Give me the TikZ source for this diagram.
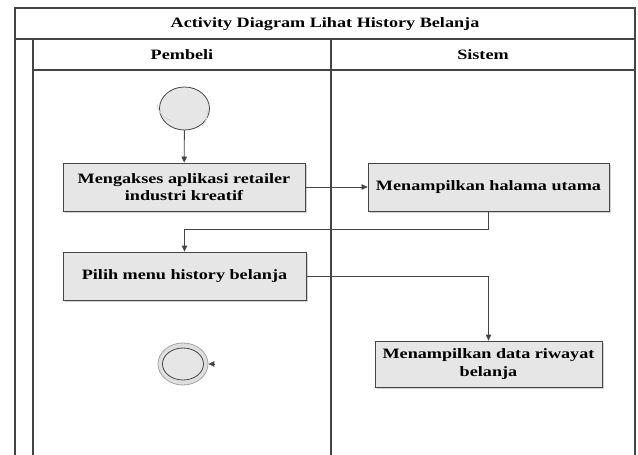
\documentclass[tikz,border=0pt]{standalone}
\usepackage{fontspec}
\setmainfont{Liberation Serif}[FakeStretch=1.27]
\usetikzlibrary{arrows.meta,shapes.geometric,shadows}
\definecolor{linegray}{HTML}{454545}
\definecolor{boxfill}{HTML}{E6E6E6}
\definecolor{shadowgray}{HTML}{D2D2D2}
\tikzset{
  frame/.style={draw=linegray, line width=1.1pt},
  lbl/.style={font=\fontsize{14.3}{17.5}\selectfont\bfseries, text=black, inner sep=0pt},
  actbox/.style={draw=linegray, line width=0.8pt, fill=boxfill, lbl, align=center,
    drop shadow={shadow xshift=2pt, shadow yshift=-2pt, fill=shadowgray, opacity=1}},
  flow/.style={draw=linegray, line width=0.9pt, -{Triangle[length=6pt,width=5.5pt]}},
  startnode/.style={ellipse, draw=linegray, line width=0.8pt, fill=boxfill, inner sep=0pt},
}
\begin{document}
\begin{tikzpicture}[x=1pt, y=-1pt]
\useasboundingbox (0,0) rectangle (638,455);

% swimlane frame
\draw[frame] (15,455) -- (15,8) -- (635,8) -- (635,455);
\draw[frame] (15,39) -- (635,39);
\draw[frame] (33,39) -- (33,455);
\draw[frame] (33,70) -- (635,70);
\draw[frame] (331,39) -- (331,455);

\node[lbl] (title) at (325,24) {Activity Diagram Lihat History Belanja};
\node[lbl] (lane1) at (182,55) {Pembeli};
\node[lbl] (lane2) at (483,55) {Sistem};

% initial state
\node[startnode, minimum width=50pt, minimum height=43pt] (start) at (184.5,108.5) {};
\draw[shadowgray, line width=0.8pt] ([shift={(-2pt,4pt)}]start.west) arc[start angle=185, end angle=250, x radius=22pt, y radius=19pt];
\draw[shadowgray, line width=0.8pt] ([shift={(-3pt,-2pt)}]start.east) arc[start angle=10, end angle=-40, x radius=22pt, y radius=19pt];

% actions
\node[actbox, minimum width=242pt, minimum height=48pt] (akses) at (184,187)
  {Mengakses aplikasi retailer\\industri kreatif};
\node[actbox, minimum width=241pt, minimum height=48pt] (utama) at (488.5,187)
  {Menampilkan halama utama};
\node[actbox, minimum width=243pt, minimum height=48pt] (pilih) at (184.5,276)
  {Pilih menu history belanja};
\node[actbox, minimum width=227pt, minimum height=46pt] (riwayat) at (488.5,364)
  {Menampilkan data riwayat\\belanja};

% final state
\node[ellipse, draw=gray!70, line width=0.8pt, fill=gray!25, minimum width=50pt, minimum height=42pt, inner sep=0pt] (final) at (183,364) {};
\node[ellipse, draw=linegray, line width=0.8pt, fill=boxfill, minimum width=41pt, minimum height=32pt, inner sep=0pt] (finalin) at (183,364) {};
\coordinate (finaltip) at (215,364);

% control flow
\draw[flow] (start) -- (akses);
\draw[flow] (akses) -- (utama);
\draw[flow] (utama.south) -- ++(0,18) -| (pilih.north);
\draw[flow] (pilih.east) -| (riwayat.north);
\draw[flow] (finaltip) -- (final.east);
\end{tikzpicture}
\end{document}
